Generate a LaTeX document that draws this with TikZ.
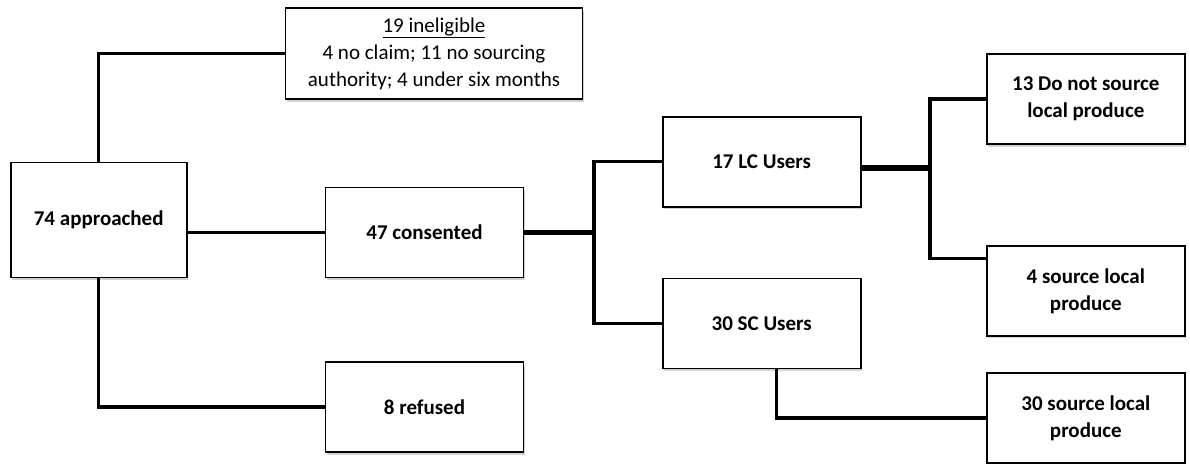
\documentclass[tikz,border=0pt]{standalone}
\usepackage{fontspec}
\setmainfont{Carlito}
\usetikzlibrary{positioning,shadows}

\begin{document}
\begin{tikzpicture}[x=1pt, y=-1pt,
  box/.style={draw, line width=1.6pt, fill=white, align=center, inner sep=2pt,
    minimum width=198pt, minimum height=90pt,
    font=\fontsize{21}{27}\selectfont\bfseries,
    drop shadow={shadow xshift=1.5pt, shadow yshift=-2.5pt, opacity=0.3, fill=black!60}},
  link/.style={line width=3.2pt},
  trunk/.style={line width=5.5pt}]

\useasboundingbox (0,0) rectangle (1190,463);

% Screening
\node[box, minimum width=176pt, minimum height=115pt] (appr) at (98.7,220) {74 approached};
\node[box, minimum width=297pt, minimum height=91pt, font=\fontsize{21}{27}\selectfont] (inel) at (434,53.7)
  {\underline{19 ineligible}\\4 no claim; 11 no sourcing\\authority; 4 under six months};
\node[box] (cons) at (424.5,232.5) {47 consented};
\node[box] (refu) at (424.5,407) {8 refused};

% Users
\node[box] (lc) at (761.7,161.7) {17 LC Users};
\node[box] (sc) at (761.7,323.3) {30 SC Users};

% Sourcing outcomes
\node[box] (lcno) at (1085.8,99) {13 Do not source\\local produce};
\node[box] (lcyes) at (1085.8,290.8) {4 source local\\produce};
\node[box] (scyes) at (1085.8,418) {30 source local\\produce};

% Branch points
\coordinate (split1) at (594,232.5);
\coordinate (split2) at (930,168);

% Connectors
\draw[link] (appr.north) |- (inel.west);
\draw[link] (cons.west -| appr.east) -- (cons.west);
\draw[link] (appr.south) |- (refu.west);
\draw[trunk] (cons.east) -- (split1);
\draw[link] (lc.west) -| (split1) |- (sc.west);
\draw[trunk] (lc.east |- split2) -- (split2);
\draw[link] (lcno.west) -| (split2) |- (lcyes.162);
\draw[link] (sc.-72) |- (scyes.west);

\end{tikzpicture}
\end{document}
